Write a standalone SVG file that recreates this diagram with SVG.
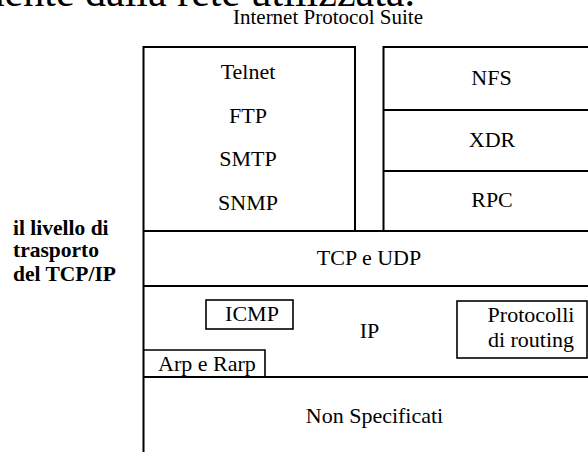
<svg xmlns="http://www.w3.org/2000/svg" width="588" height="452" viewBox="0 0 588 452">
<style>
.t{font-family:"Liberation Serif","Times New Roman",serif;font-size:22px;fill:#000;text-anchor:middle}
.b{font-family:"Liberation Serif","Times New Roman",serif;font-size:21.5px;font-weight:bold;fill:#000}
.ln{stroke:#000;stroke-width:2;fill:none}
.bx{stroke:#000;stroke-width:1.6;fill:none}
</style>
<rect width="588" height="452" fill="#fff"/>
<text x="415" y="6" font-family="Liberation Serif,serif" font-size="42" text-anchor="end">mente dalla rete utilizzata.</text>
<text class="t" x="328" y="24" font-size="21" textLength="190" lengthAdjust="spacingAndGlyphs">Internet Protocol Suite</text>
<g id="label">
<text class="b" x="13" y="235">il livello di</text>
<text class="b" x="13" y="257">trasporto</text>
<text class="b" x="13" y="281">del TCP/IP</text>
</g>
<g id="connectors">
<line class="ln" x1="143.5" y1="46" x2="143.5" y2="452"/>
</g>
<g id="apps">
<path class="ln" d="M143.5 47H355V231"/>
<text class="t" x="248" y="79">Telnet</text>
<text class="t" x="248" y="122.5">FTP</text>
<text class="t" x="248" y="166">SMTP</text>
<text class="t" x="248" y="209.5">SNMP</text>
</g>
<g id="nfs">
<path class="ln" d="M383.5 231V47H588"/>
<text class="t" x="491.5" y="85">NFS</text>
</g>
<g id="xdr">
<line class="ln" x1="383.5" y1="110" x2="588" y2="110"/>
<text class="t" x="492" y="146.5">XDR</text>
</g>
<g id="rpc">
<line class="ln" x1="383.5" y1="171" x2="588" y2="171"/>
<text class="t" x="492" y="206.5">RPC</text>
</g>
<g id="tcpudp">
<line class="ln" x1="143.5" y1="231" x2="588" y2="231"/>
<text class="t" x="369" y="265" font-size="23">TCP e UDP</text>
</g>
<g id="ip">
<line class="ln" x1="143.5" y1="286" x2="588" y2="286"/>
<text class="t" x="369.5" y="338">IP</text>
</g>
<g id="icmp">
<rect class="bx" x="206" y="300" width="87" height="29"/>
<text class="t" x="252" y="320.5">ICMP</text>
</g>
<g id="arp">
<path class="bx" d="M143.5 350H265V377"/>
<text class="t" x="158" y="370.5" font-size="23" style="text-anchor:start">Arp e Rarp</text>
</g>
<g id="routing">
<rect class="bx" x="457" y="301" width="130" height="57"/>
<text class="t" x="531" y="322">Protocolli</text>
<text class="t" x="531" y="347">di routing</text>
</g>
<g id="nonspec">
<line class="ln" x1="143.5" y1="377" x2="588" y2="377"/>
<text class="t" x="374.5" y="423" font-size="23">Non Specificati</text>
</g>
</svg>
